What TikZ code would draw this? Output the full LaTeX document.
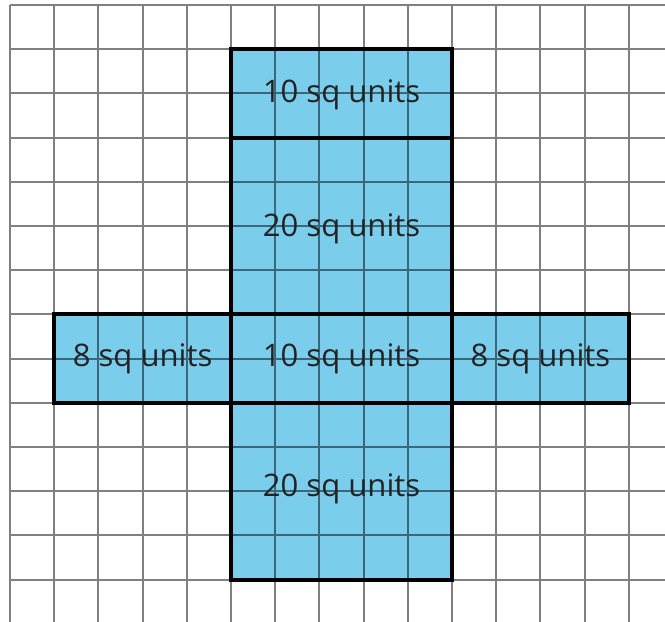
\documentclass[tikz,border=0pt]{standalone}
\usepackage{fontspec}
\setmainfont{Open Sans}
\usepackage{tikz}
\definecolor{netblue}{RGB}{122,206,236}
\definecolor{cellgray}{RGB}{128,128,128}
\definecolor{celldark}{RGB}{58,104,122}
\definecolor{labelgray}{RGB}{35,35,35}

\begin{document}
\begin{tikzpicture}[x=1cm, y=1cm,
    face/.style={rectangle, fill=netblue, inner sep=0pt, outer sep=0pt},
    tag/.style={inner sep=0pt, text height=14.3pt, text depth=0pt,
        text=labelgray, font=\fontsize{20}{24}\selectfont},
    gridline/.style={cellgray, line width=1.3pt},
    facegrid/.style={celldark, line width=1.3pt},
    edge/.style={black, line width=2.6pt}]

    \useasboundingbox (-0.226,-13.937) rectangle (14.819,0.113);

    % Faces of the net
    \node[face, minimum width=5cm, minimum height=2cm] (lid)    at (7.5,-2)  {};
    \node[face, minimum width=5cm, minimum height=4cm] (back)   at (7.5,-5)  {};
    \node[face, minimum width=5cm, minimum height=2cm] (base)   at (7.5,-8)  {};
    \node[face, minimum width=4cm, minimum height=2cm] (leftw)  at (3,-8)    {};
    \node[face, minimum width=4cm, minimum height=2cm] (rightw) at (12,-8)   {};
    \node[face, minimum width=5cm, minimum height=4cm] (front)  at (7.5,-11) {};

    % Grid
    \draw[gridline] (0,-14.1) grid (15.1,0);
    \begin{scope}
        \clip (lid.south west) rectangle (lid.north east)
              (back.south west) rectangle (back.north east)
              (leftw.south west) rectangle (rightw.north east)
              (front.south west) rectangle (front.north east);
        \draw[facegrid] (0,-14.1) grid (15.1,0);
    \end{scope}

    % Outlines
    \foreach \f in {lid, back, base, leftw, rightw, front}
        \draw[edge] (\f.south west) rectangle (\f.north east);

    % Areas
    \node[tag] (lidtag)    at ([yshift=0.035cm]lid.center)    {10 sq units};
    \node[tag] (backtag)   at ([yshift=0.02cm]back.center)    {20 sq units};
    \node[tag] (basetag)   at ([yshift=0.065cm]base.center)   {10 sq units};
    \node[tag] (lefttag)   at ([yshift=0.065cm]leftw.center)  {8 sq units};
    \node[tag] (righttag)  at ([yshift=0.065cm]rightw.center) {8 sq units};
    \node[tag] (fronttag)  at ([yshift=0.135cm]front.center)  {20 sq units};

\end{tikzpicture}
\end{document}
